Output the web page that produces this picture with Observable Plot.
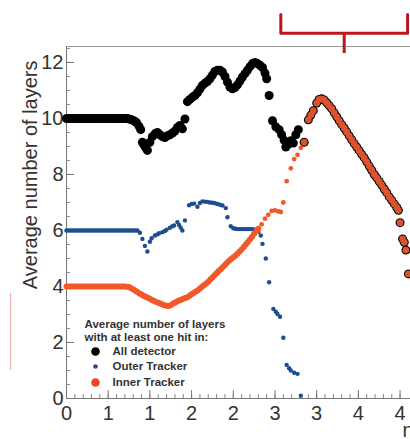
<!DOCTYPE html>
<html>
<head>
<meta charset="utf-8">
<script src="https://cdn.jsdelivr.net/npm/d3@7"></script>
<script src="https://cdn.jsdelivr.net/npm/@observablehq/plot@0.6"></script>
<style>
html, body { margin: 0; padding: 0; background: #fff; overflow: hidden; width: 410px; height: 439px; }
#chart svg { display: block; }
</style>
</head>
<body>
<div id="chart"></div>
<script>
// ---- data: [eta, average number of layers] ----
const allDetector = [
  [0,10],[0.025,10],[0.05,10],[0.075,10],[0.1,10],[0.125,10],[0.15,10],[0.175,10],[0.2,10],[0.225,10],
  [0.25,10],[0.275,10],[0.3,10],[0.325,10],[0.35,10],[0.375,10],[0.4,10],[0.425,10],[0.45,10],[0.475,10],
  [0.5,10],[0.525,10],[0.55,10],[0.575,10],[0.6,10],[0.625,10],[0.65,10],[0.675,10],[0.7,10],[0.725,10],
  [0.75,9.98],[0.775,9.96],[0.8,9.93],[0.82,9.89],[0.84,9.85],[0.87,9.72],
  [0.89,9.6],[0.91,9.15],[0.93,9.05],[0.95,8.95],[0.97,8.86],[1.0,9.15],[1.03,9.35],[1.06,9.45],
  [1.09,9.5],[1.12,9.42],[1.15,9.35],[1.18,9.32],[1.21,9.38],[1.24,9.42],[1.27,9.48],[1.3,9.55],
  [1.33,9.68],[1.36,9.75],[1.39,9.63],[1.42,9.98],[1.45,10.6],[1.48,10.68],[1.51,10.76],[1.54,10.82],
  [1.57,10.92],[1.6,11.05],[1.63,11.18],[1.66,11.26],[1.69,11.32],[1.72,11.42],[1.75,11.55],
  [1.78,11.68],[1.81,11.72],[1.84,11.72],[1.87,11.66],[1.9,11.5],[1.93,11.3],[1.96,11.12],
  [1.99,11.06],[2.02,11.1],[2.05,11.2],[2.08,11.34],[2.11,11.48],[2.14,11.6],[2.17,11.72],
  [2.2,11.85],[2.23,11.96],[2.26,12.0],[2.29,11.96],[2.32,11.9],[2.35,11.82],[2.38,11.62],
  [2.4,11.42],[2.43,10.82],[2.47,9.92],[2.51,9.7],[2.55,9.6],[2.58,9.42],[2.61,9.22],[2.63,8.98],
  [2.66,9.08],[2.69,9.2],[2.72,9.12],[2.75,9.42],[2.78,9.6]
];
// forward region: outer tracker is empty, all detector = inner tracker
const forwardRegion = [
  [2.85,9.15],[2.9,9.95],[2.93,10.12],[2.96,10.28],[3.0,10.55],[3.03,10.68],[3.06,10.7],[3.09,10.66],
  [3.12,10.56],[3.15,10.46],[3.18,10.35],[3.21,10.2],[3.24,10.06],[3.27,9.92],[3.3,9.78],[3.33,9.66],
  [3.36,9.52],[3.39,9.38],[3.42,9.24],[3.45,9.1],[3.48,8.98],[3.51,8.85],[3.54,8.72],[3.57,8.6],
  [3.6,8.45],[3.63,8.3],[3.66,8.15],[3.69,8.0],[3.72,7.88],[3.75,7.75],[3.78,7.62],[3.81,7.48],
  [3.84,7.35],[3.87,7.2],[3.9,7.08],[3.93,6.95],[3.96,6.82],[3.98,6.72],[4.0,6.28],[4.03,5.7],
  [4.05,5.58],[4.07,5.3],[4.1,4.45]
];
const outerTracker = [
  [0,6],[0.025,6],[0.05,6],[0.075,6],[0.1,6],[0.125,6],[0.15,6],[0.175,6],[0.2,6],[0.225,6],
  [0.25,6],[0.275,6],[0.3,6],[0.325,6],[0.35,6],[0.375,6],[0.4,6],[0.425,6],[0.45,6],[0.475,6],
  [0.5,6],[0.525,6],[0.55,6],[0.575,6],[0.6,6],[0.625,6],[0.65,6],[0.675,6],[0.7,6],[0.725,6],
  [0.75,6],[0.775,6],[0.8,6],[0.825,6],[0.85,6],[0.88,5.92],[0.91,5.7],[0.94,5.45],
  [0.97,5.25],[1.0,5.6],[1.02,5.72],[1.06,5.82],[1.09,5.86],[1.11,5.9],[1.15,5.94],[1.18,5.98],
  [1.2,6.03],[1.24,6.1],[1.27,6.15],[1.29,6.18],[1.33,6.3],[1.35,6.2],[1.37,6.1],[1.39,6.0],
  [1.42,6.36],[1.47,6.9],[1.5,6.95],[1.53,6.96],[1.57,6.85],[1.6,6.98],[1.63,7.04],[1.66,7.03],
  [1.69,7.02],[1.72,7.0],[1.75,6.99],[1.78,6.97],[1.81,6.95],[1.84,6.92],[1.87,6.89],[1.91,6.8],
  [1.93,6.47],[1.97,6.15],[2.0,6.08],[2.025,6.06],[2.05,6.05],[2.075,6.05],[2.1,6.05],[2.125,6.05],
  [2.15,6.05],[2.175,6.05],[2.2,6.05],[2.225,6.05],[2.25,6.04],[2.275,6.02],[2.3,5.95],[2.33,5.82],
  [2.35,5.52],[2.39,5.0],
  [2.43,4.15],[2.48,3.2],[2.51,3.1],[2.53,3.02],[2.56,2.92],[2.6,2.17],[2.64,1.2],[2.67,1.08],
  [2.69,1.0],[2.73,0.92],[2.77,0.88],[2.81,0.1]
];
const innerTracker = [
  [0,4],[0.025,4],[0.05,4],[0.075,4],[0.1,4],[0.125,4],[0.15,4],[0.175,4],[0.2,4],[0.225,4],
  [0.25,4],[0.275,4],[0.3,4],[0.325,4],[0.35,4],[0.375,4],[0.4,4],[0.425,4],[0.45,4],[0.475,4],
  [0.5,4],[0.525,4],[0.55,4],[0.575,4],[0.6,4],[0.625,4],[0.65,4],[0.675,4],[0.7,4],[0.725,3.99],
  [0.75,3.98],[0.775,3.94],[0.8,3.9],[0.825,3.85],[0.85,3.8],[0.875,3.75],[0.9,3.71],[0.925,3.67],
  [0.95,3.63],[0.975,3.6],[1.0,3.56],[1.025,3.52],[1.05,3.48],[1.075,3.45],[1.1,3.42],[1.125,3.39],
  [1.15,3.36],[1.175,3.33],[1.2,3.31],[1.225,3.3],[1.25,3.33],[1.275,3.38],[1.3,3.42],[1.325,3.46],
  [1.35,3.5],[1.375,3.53],[1.4,3.56],[1.425,3.59],[1.45,3.62],[1.475,3.67],[1.5,3.72],[1.525,3.77],
  [1.55,3.82],[1.575,3.87],[1.6,3.93],[1.625,3.99],[1.65,4.05],[1.675,4.11],[1.7,4.17],[1.725,4.25],
  [1.75,4.32],[1.775,4.4],[1.8,4.47],[1.825,4.55],[1.85,4.62],[1.875,4.7],[1.9,4.77],[1.925,4.85],
  [1.95,4.92],[1.975,4.98],[2.0,5.04],[2.025,5.1],[2.05,5.17],[2.075,5.25],[2.1,5.32],[2.125,5.41],
  [2.15,5.5],[2.175,5.59],[2.2,5.68],[2.225,5.78],[2.25,5.88],[2.275,5.97],[2.3,6.06],
  [2.34,6.22],[2.38,6.42],[2.42,6.56],[2.46,6.7],[2.5,6.72],[2.54,6.68],[2.57,6.66],[2.6,7.0],
  [2.64,7.76],[2.69,8.22],[2.73,8.55],[2.77,8.7],[2.81,8.95]
];

const xMajorTicks = [0, 0.5, 1, 1.5, 2, 2.5, 3, 3.5, 4];
const xMinorTicks = d3.range(0, 41).map(i => i / 10);
const yMajorTicks = [0, 2, 4, 6, 8, 10, 12];
const yMinorTicks = d3.range(0, 26).map(i => i / 2);

const yTitle = "Average number of layers";
const xTitle = "η";
const legendTitle = ["Average number of layers", "with at least one hit in:"];
const legendLabels = ["All detector", "Outer Tracker", "Inner Tracker"];
const legendColors = ["#000000", "#1d4d8e", "#f2432e"];
const legendSizes = [4.3, 2.3, 4.3];

// annotation bracket above the forward region (eta, layers)
const bracketEta = [2.57, 3.33, 4.09];
const bracketLevel = [13.71, 13.04, 12.32];
const sideMarkEta = -0.67;
const sideMarkLevel = [1.0, 3.75];

// ---- build ----
const toRows = arr => arr.map(([eta, layers]) => ({eta, layers}));
const allRows = toRows(allDetector.concat(forwardRegion));
const outerRows = toRows(outerTracker);
const innerRows = toRows(innerTracker);
const fwdRows = toRows(forwardRegion);
const bracketRows = [
  {eta: bracketEta[0], lv: bracketLevel[0]},
  {eta: bracketEta[0], lv: bracketLevel[1]},
  {eta: bracketEta[2], lv: bracketLevel[1]},
  {eta: bracketEta[2], lv: bracketLevel[0]}
];

const yDomain = [0, 12.57];
const xDomain = [0, 4.125];
const font = "'Liberation Sans', Arial, Helvetica, sans-serif";

const legendMarks = [];
legendTitle.forEach((t, i) => {
  legendMarks.push(Plot.text([t], {frameAnchor: "bottom-left", dx: 18, dy: -74 + 13 * i,
    textAnchor: "start", lineAnchor: "middle", fontSize: 11.5, fontWeight: "bold", fill: "#333"}));
});
legendLabels.forEach((t, i) => {
  const dy = [-47, -32, -16][i];
  legendMarks.push(Plot.dot([t], {frameAnchor: "bottom-left", dx: 29, dy, r: legendSizes[i], fill: legendColors[i]}));
  legendMarks.push(Plot.text([t], {frameAnchor: "bottom-left", dx: 46, dy,
    textAnchor: "start", lineAnchor: "middle", fontSize: 11.5, fontWeight: "bold", fill: "#333"}));
});

const chart = Plot.plot({
  width: 410,
  height: 439,
  marginLeft: 66,
  marginRight: 0,
  marginTop: 46,
  marginBottom: 41,
  style: {fontFamily: font, background: "#fff", color: "#333", overflow: "visible"},
  x: {domain: xDomain, axis: null},
  y: {domain: yDomain, axis: null},
  marks: [
    Plot.ruleY([yDomain[1]], {stroke: "#9a9a9a"}),
    Plot.ruleY([0], {stroke: "#777"}),
    Plot.ruleX([0], {stroke: "#777"}),
    Plot.axisX(xMinorTicks, {anchor: "bottom", tickSize: -4, tickFormat: () => "", label: null, stroke: "#888"}),
    Plot.axisX(xMajorTicks, {anchor: "bottom", tickSize: -8, tickPadding: 15, label: null, stroke: "#777", fill: "#333", fontSize: 20}),
    Plot.axisY(yMinorTicks, {anchor: "left", tickSize: -4, tickFormat: () => "", label: null, stroke: "#888"}),
    Plot.axisY(yMajorTicks, {anchor: "left", tickSize: -8, tickPadding: 11, label: null, stroke: "#777", fill: "#333", fontSize: 20}),
    Plot.text([yTitle], {frameAnchor: "top-left", rotate: -90, textAnchor: "end", lineAnchor: "middle",
      dx: -36, dy: 14, fontSize: 20, fill: "#333"}),
    Plot.text([xTitle], {frameAnchor: "bottom-right", textAnchor: "start", lineAnchor: "middle",
      dx: -8, dy: 32, fontSize: 20, fill: "#333"}),
    Plot.dot(allRows, {x: "eta", y: "layers", r: 4.5, fill: "#000"}),
    Plot.dot(outerRows, {x: "eta", y: "layers", r: 2.2, fill: "#1d4d8e"}),
    Plot.dot(innerRows, {filter: d => d.eta < 2.32, x: "eta", y: "layers", r: 3, fill: "#f2582a"}),
    Plot.dot(innerRows, {filter: d => d.eta >= 2.32, x: "eta", y: "layers", r: 2.4, fill: "#f2582a"}),
    Plot.dot(fwdRows, {x: "eta", y: "layers", r: 3.4, fill: "#d9532f"}),
    ...legendMarks,
    Plot.line(bracketRows, {x: "eta", y: "lv", stroke: "#c0141c", strokeWidth: 3, curve: "linear"}),
    Plot.ruleX([bracketEta[1]], {y1: bracketLevel[1], y2: bracketLevel[2], stroke: "#c0141c", strokeWidth: 3}),
    Plot.ruleX([sideMarkEta], {y1: sideMarkLevel[0], y2: sideMarkLevel[1], stroke: "#f4a0a0", strokeWidth: 1})
  ]
});
document.getElementById("chart").appendChild(chart);
</script>
</body>
</html>
